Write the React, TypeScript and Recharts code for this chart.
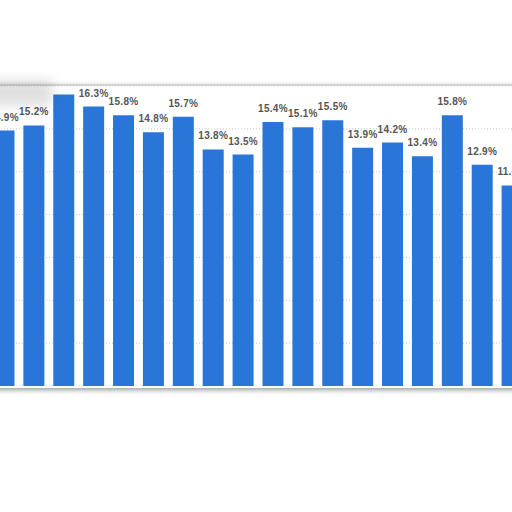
import { BarChart, Bar, XAxis, YAxis, CartesianGrid, LabelList } from "recharts";

// visible slice of a longer series; first and last bars are cut by the frame
const categories = [
  "c1", "c2", "c3", "c4", "c5", "c6", "c7", "c8", "c9",
  "c10", "c11", "c12", "c13", "c14", "c15", "c16", "c17", "c18",
];
const shares = [
  14.9, 15.2, 17.0, 16.3, 15.8, 14.8, 15.7, 13.8, 13.5,
  15.4, 15.1, 15.5, 13.9, 14.2, 13.4, 15.8, 12.9, 11.7,
];
const yTicks = [0, 2.5, 5, 7.5, 10, 12.5, 15, 17.5];

const BAR_BLUE = "#2a76d8";

const data = categories.map((name, i) => ({ name, value: shares[i] }));

export default function App() {
  return (
    <div
      style={{
        position: "absolute",
        left: 0,
        top: 0,
        width: 512,
        height: 512,
        overflow: "hidden",
        background: "#fff",
      }}
    >
      {/* the white card the chart sits on */}
      <div
        style={{
          position: "absolute",
          left: -12,
          top: 84,
          width: 536,
          height: 304,
          overflow: "hidden",
          background: "#fff",
          borderTop: "2px solid #d4d4d4",
          boxSizing: "border-box",
          boxShadow: "0 2px 5px rgba(0,0,0,0.4)",
        }}
      >
        <div style={{ position: "absolute", left: 1, top: -21 }}>
          <BarChart
            width={538}
            height={321}
            data={data}
            margin={{ top: 21, right: 0, left: 0, bottom: 0 }}
            barCategoryGap="15%"
          >
            <CartesianGrid
              vertical={false}
              stroke="#c8c8c8"
              strokeDasharray="1 2"
            />
            <XAxis
              dataKey="name"
              height={0}
              tick={false}
              tickLine={false}
              axisLine={{ stroke: "#000", strokeWidth: 1.5 }}
            />
            <YAxis hide domain={[0, 17.5]} ticks={yTicks} />
            <Bar dataKey="value" fill={BAR_BLUE} isAnimationActive={false}>
              <LabelList
                dataKey="value"
                position="top"
                offset={10}
                formatter={(v: number) => `${v.toFixed(1)}%`}
                style={{
                  fontFamily: "'Liberation Sans', Arial, sans-serif",
                  fontSize: 10,
                  fontWeight: 700,
                  letterSpacing: 0.3,
                  fill: "#555",
                }}
              />
            </Bar>
          </BarChart>
        </div>
      </div>
      {/* torn / smudged corner at the top left */}
      <div
        style={{
          position: "absolute",
          left: -10,
          top: 80,
          width: 62,
          height: 26,
          background: "rgba(0,0,0,0.12)",
          filter: "blur(6px)",
          pointerEvents: "none",
        }}
      />
    </div>
  );
}
